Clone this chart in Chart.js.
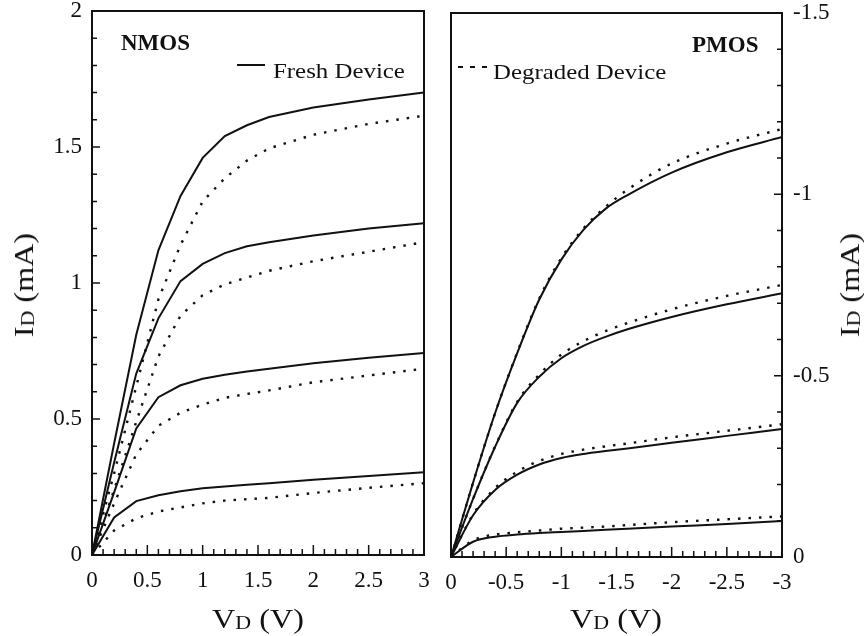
<!DOCTYPE html>
<html>
<head>
<meta charset="utf-8">
<title>NMOS / PMOS I-V</title>
<script src="https://cdn.jsdelivr.net/npm/chart.js@4.4.1/dist/chart.umd.min.js"></script>
<style>
  body { margin: 0; background: #fff; }
  #wrap { position: relative; width: 864px; height: 636px; overflow: hidden;
          font-family: "Liberation Serif", "Times New Roman", serif; color: #111; }
  canvas { position: absolute; left: 0; top: 0; }
  .txt { position: absolute; white-space: nowrap; line-height: 1; }
  .axis { font-size: 28px; }
  .axis span { font-size: 0.68em; vertical-align: -0.06em; }
  .tag { font-size: 23px; font-weight: bold; }
  .key { font-size: 22px; transform: scaleX(1.13); transform-origin: left center; }
  .sample { position: absolute; height: 2px; }
</style>
</head>
<body>
<div id="wrap">
  <canvas id="nmos" width="864" height="636"></canvas>
  <canvas id="pmos" width="864" height="636"></canvas>

  <div class="txt axis" style="left:24px; top:285px; transform:translate(-50%,-50%) rotate(-90deg) scaleX(1.15)">I<span>D</span> (mA)</div>
  <div class="txt axis" style="left:850px; top:285px; transform:translate(-50%,-50%) rotate(-90deg) scaleX(1.15)">I<span>D</span> (mA)</div>
  <div class="txt axis" style="left:258px; top:619px; transform:translate(-50%,-50%) scaleX(1.15)">V<span>D</span> (V)</div>
  <div class="txt axis" style="left:616px; top:619px; transform:translate(-50%,-50%) scaleX(1.15)">V<span>D</span> (V)</div>

  <div class="txt tag" style="left:121px; top:31px">NMOS</div>
  <div class="txt tag" style="left:692px; top:33px">PMOS</div>

  <div class="sample" style="left:237px; top:64px; width:28px; background:#111"></div>
  <div class="txt key" style="left:273px; top:60px">Fresh Device</div>
  <div class="sample" style="left:458px; top:66px; width:30px; background:repeating-linear-gradient(to right, #111 0 5px, transparent 5px 12px)"></div>
  <div class="txt key" style="left:493px; top:61px">Degraded Device</div>
</div>

<script>
// drain voltage grid (V)
const nmosVd = [0, 0.2, 0.4, 0.6, 0.8, 1.0, 1.2, 1.4, 1.6, 2.0, 2.5, 3.0];
const pmosVd = [0, -0.2, -0.4, -0.6, -0.8, -1.0, -1.2, -1.4, -1.6, -2.0, -2.5, -3.0];

// NMOS drain current (mA), one array per gate bias, highest first
const nmosFresh1 = [0, 0.41, 0.81, 1.12, 1.32, 1.46, 1.54, 1.58, 1.61, 1.645, 1.675, 1.70];
const nmosFresh2 = [0, 0.34, 0.667, 0.87, 1.007, 1.07, 1.11, 1.135, 1.15, 1.175, 1.20, 1.22];
const nmosFresh3 = [0, 0.23, 0.465, 0.58, 0.624, 0.648, 0.663, 0.675, 0.685, 0.705, 0.725, 0.743];
const nmosFresh4 = [0, 0.138, 0.198, 0.22, 0.234, 0.245, 0.252, 0.258, 0.264, 0.277, 0.29, 0.304];
const nmosDegr1 = [0, 0.30, 0.62, 0.94, 1.14, 1.30, 1.385, 1.45, 1.495, 1.545, 1.585, 1.615];
const nmosDegr2 = [0, 0.24, 0.49, 0.73, 0.88, 0.955, 0.995, 1.02, 1.045, 1.08, 1.115, 1.15];
const nmosDegr3 = [0, 0.19, 0.37, 0.475, 0.523, 0.553, 0.578, 0.592, 0.605, 0.635, 0.66, 0.685];
const nmosDegr4 = [0, 0.09, 0.135, 0.16, 0.175, 0.19, 0.2, 0.205, 0.21, 0.228, 0.247, 0.264];

// PMOS drain current (mA)
const pmosFresh1 = [0, -0.205, -0.397, -0.562, -0.71, -0.82, -0.902, -0.96, -0.998, -1.06, -1.116, -1.158];
const pmosFresh2 = [0, -0.16, -0.304, -0.425, -0.497, -0.548, -0.582, -0.607, -0.628, -0.662, -0.697, -0.727];
const pmosFresh3 = [0, -0.115, -0.185, -0.227, -0.255, -0.273, -0.284, -0.292, -0.299, -0.315, -0.334, -0.353];
const pmosFresh4 = [0, -0.042, -0.056, -0.062, -0.066, -0.069, -0.072, -0.075, -0.078, -0.084, -0.091, -0.099];
const pmosDegr1 = [0, -0.205, -0.397, -0.564, -0.713, -0.824, -0.906, -0.965, -1.013, -1.085, -1.14, -1.18];
const pmosDegr2 = [0, -0.16, -0.305, -0.428, -0.503, -0.558, -0.595, -0.623, -0.645, -0.683, -0.72, -0.75];
const pmosDegr3 = [0, -0.117, -0.19, -0.235, -0.265, -0.284, -0.296, -0.305, -0.313, -0.33, -0.348, -0.366];
const pmosDegr4 = [0, -0.046, -0.062, -0.068, -0.073, -0.078, -0.081, -0.084, -0.088, -0.096, -0.104, -0.112];

const INK = "#111";
const FONT = { family: "'Liberation Serif', 'Times New Roman', serif", size: 23 };

function series(vd, ids, degraded, smooth) {
  return {
    data: vd.map((v, i) => ({ x: v, y: ids[i] })),
    borderColor: INK,
    borderWidth: degraded ? 2.4 : 2,
    borderDash: degraded ? [2.5, 8] : [],
    cubicInterpolationMode: smooth ? "monotone" : "default",
    tension: 0,
    pointRadius: 0,
    fill: false
  };
}

// box around the plot plus inward ticks every 0.1
const frame = {
  id: "frame",
  afterDatasetsDraw(chart, args, opts) {
    const { ctx, chartArea: a, scales: { x, y } } = chart;
    ctx.save();
    ctx.strokeStyle = INK;
    ctx.lineWidth = 1.5;
    ctx.beginPath();
    const nx = Math.round(Math.abs(x.max - x.min) / 0.1);
    for (let i = 1; i < nx; i++) {
      const px = x.getPixelForValue(x.min + i * 0.1);
      const len = i % 5 === 0 ? 10 : 6;
      ctx.moveTo(px, a.bottom);
      ctx.lineTo(px, a.bottom - len);
    }
    const ny = Math.round(Math.abs(y.max - y.min) / 0.1);
    const edge = opts.side === "right" ? a.right : a.left;
    const dir = opts.side === "right" ? -1 : 1;
    for (let i = 1; i < ny; i++) {
      const py = y.getPixelForValue(y.min + i * 0.1);
      const len = i % 5 === 0 ? 8 : 5;
      ctx.moveTo(edge, py);
      ctx.lineTo(edge + dir * len, py);
    }
    ctx.stroke();
    ctx.lineWidth = 2;
    ctx.strokeRect(a.left, a.top, a.width, a.height);
    ctx.restore();
  }
};

function axisTicks(padding) {
  return {
    stepSize: 0.5, padding: padding, color: INK, font: FONT, maxRotation: 0, autoSkip: false,
    callback: v => String(+v.toFixed(1))
  };
}

// fixed axis box sizes, no extra room for overhanging labels
function fixSize(w, h) {
  return s => {
    if (w) s.width = w;
    if (h) s.height = h;
    s.paddingTop = s.paddingBottom = s.paddingLeft = s.paddingRight = 0;
  };
}

const noGrid = { display: false, drawTicks: false };

function baseOptions(padding, side) {
  return {
    responsive: false,
    animation: false,
    events: [],
    layout: { autoPadding: false, padding: padding },
    plugins: { legend: { display: false }, tooltip: { enabled: false }, frame: { side: side } }
  };
}

new Chart(document.getElementById("nmos"), {
  type: "line",
  data: {
    datasets: [
      series(nmosVd, nmosFresh1, false, false),
      series(nmosVd, nmosFresh2, false, false),
      series(nmosVd, nmosFresh3, false, false),
      series(nmosVd, nmosFresh4, false, false),
      series(nmosVd, nmosDegr1, true, false),
      series(nmosVd, nmosDegr2, true, false),
      series(nmosVd, nmosDegr3, true, false),
      series(nmosVd, nmosDegr4, true, false)
    ]
  },
  options: Object.assign(baseOptions({ left: 0, right: 440, top: 11, bottom: 0 }, "left"), {
    scales: {
      x: { type: "linear", min: 0, max: 3, grid: noGrid, border: { display: false },
           ticks: axisTicks(12), afterFit: fixSize(0, 81) },
      y: { type: "linear", min: 0, max: 2, grid: noGrid, border: { display: false },
           ticks: axisTicks(10), afterFit: fixSize(92, 0) }
    }
  }),
  plugins: [frame]
});

new Chart(document.getElementById("pmos"), {
  type: "line",
  data: {
    datasets: [
      series(pmosVd, pmosFresh1, false, true),
      series(pmosVd, pmosFresh2, false, true),
      series(pmosVd, pmosFresh3, false, true),
      series(pmosVd, pmosFresh4, false, true),
      series(pmosVd, pmosDegr1, true, true),
      series(pmosVd, pmosDegr2, true, true),
      series(pmosVd, pmosDegr3, true, true),
      series(pmosVd, pmosDegr4, true, true)
    ]
  },
  options: Object.assign(baseOptions({ left: 451, right: 0, top: 13, bottom: 0 }, "right"), {
    scales: {
      x: { type: "linear", min: -3, max: 0, reverse: true, grid: noGrid, border: { display: false },
           ticks: axisTicks(12), afterFit: fixSize(0, 79) },
      y: { type: "linear", position: "right", min: -1.5, max: 0, reverse: true, grid: noGrid,
           border: { display: false }, ticks: axisTicks(11), afterFit: fixSize(82, 0) }
    }
  }),
  plugins: [frame]
});
</script>
</body>
</html>
